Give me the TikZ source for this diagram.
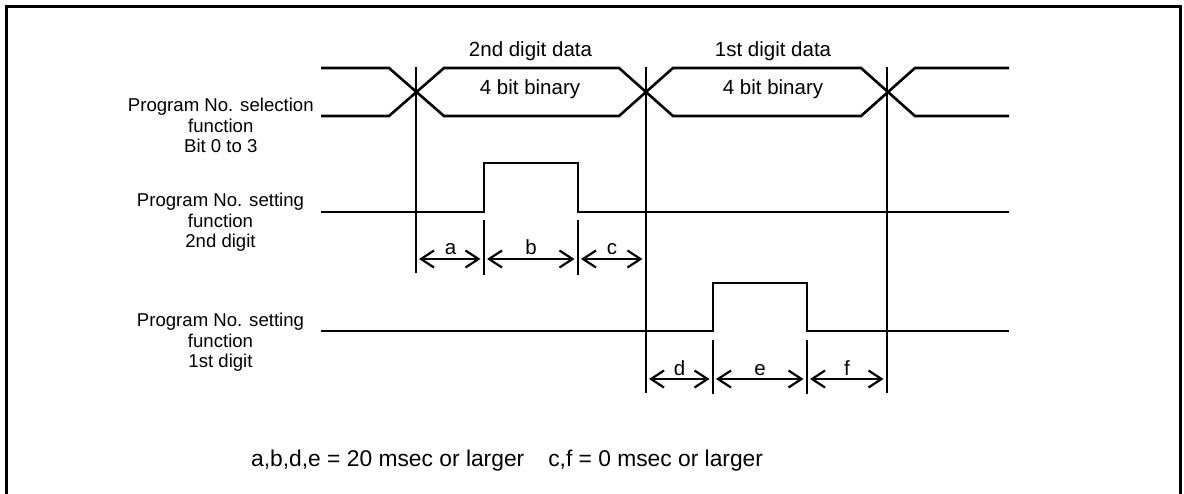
\documentclass[tikz,border=0pt]{standalone}
\usepackage{fontspec}
\setmainfont{Liberation Sans}
\usetikzlibrary{arrows.meta}
\begin{document}
\begin{tikzpicture}[x=1pt,y=-1pt,
  frame/.style={line width=3pt},
  sig/.style={line width=2.6pt, line join=miter},
  guide/.style={line width=1.1pt},
  dim/.style={line width=2.2pt, shorten <=3pt, shorten >=3.5pt,
    {Straight Barb[length=13pt,width=17pt,line width=2.2pt]}-{Straight Barb[length=13pt,width=17pt,line width=2.2pt]}},
  toplbl/.style={inner sep=0pt, anchor=base, font=\fontsize{20.5}{24}\selectfont},
  leftlbl/.style={inner sep=0pt, anchor=base, font=\fontsize{18.6}{20.5}\selectfont},
  letter/.style={inner sep=0pt, anchor=base, font=\fontsize{20.5}{24}\selectfont},
  note/.style={inner sep=0pt, anchor=base west, font=\fontsize{22.8}{26}\selectfont}]
\useasboundingbox (0,0) rectangle (1184,493);

% frame
\draw[frame] (6,500) -- (6,6) -- (1180.5,6) -- (1180.5,500);

% bus (Program No. selection function, Bit 0 to 3)
\draw[sig] (321,68) -- (389,68) -- (444,116) -- (619,116) -- (673,68) -- (861,68) -- (915,116) -- (1009,116);
\draw[sig] (321,116) -- (389,116) -- (444,68) -- (619,68) -- (673,116) -- (861,116) -- (915,68) -- (1009,68);

% 2nd digit strobe
\draw[sig] (321,212) -- (484,212) -- (484,163) -- (578,163) -- (578,212) -- (1009,212);
% 1st digit strobe
\draw[sig] (321,331) -- (713,331) -- (713,283) -- (807,283) -- (807,331) -- (1009,331);

% guide lines
\draw[guide] (416,67) -- (416,273);
\draw[guide] (646,67) -- (646,393);
\draw[guide] (887,67) -- (887,393);
\draw[guide] (484,220) -- (484,275);
\draw[guide] (578,220) -- (578,275);
\draw[guide] (713,340) -- (713,394);
\draw[guide] (807,340) -- (807,394);

% dimension arrows
\coordinate (A1) at (416,259);
\coordinate (A2) at (484,259);
\coordinate (A3) at (578,259);
\coordinate (A4) at (646,259);
\coordinate (B1) at (646,379);
\coordinate (B2) at (713,379);
\coordinate (B3) at (807,379);
\coordinate (B4) at (887,379);
\draw[dim] (A1) -- (A2);
\draw[dim] (A2) -- (A3);
\draw[dim] (A3) -- (A4);
\draw[dim] (B1) -- (B2);
\draw[dim] (B2) -- (B3);
\draw[dim] (B3) -- (B4);
\node[letter] (la) at (450.5,254.5) {a};
\node[letter] (lb) at (531,254.5) {b};
\node[letter] (lc) at (612,254.5) {c};
\node[letter] (ld) at (679.5,375) {d};
\node[letter] (le) at (760,375) {e};
\node[letter] (lf) at (847,375) {f};

% top labels
\node[toplbl] (d2) at (530.5,56) {2nd digit data};
\node[toplbl] (d1) at (773,56) {1st digit data};
\node[toplbl] (b2) at (530,94) {4 bit binary};
\node[toplbl] (b1) at (773,94) {4 bit binary};

% left labels
\node[leftlbl] (sel) at (220.8,111.5) {\begin{tabular}[t]{@{}c@{}}Program No. selection\\function\\Bit 0 to 3\end{tabular}};
\node[leftlbl] (set2) at (220.5,206.5) {\begin{tabular}[t]{@{}c@{}}Program No. setting\\function\\2nd digit\end{tabular}};
\node[leftlbl] (set1) at (220.5,326.5) {\begin{tabular}[t]{@{}c@{}}Program No. setting\\function\\1st digit\end{tabular}};

% note
\node[note] (nt) at (251,466) {a,b,d,e = 20 msec or larger\hspace{24pt}c,f = 0 msec or larger};
\end{tikzpicture}
\end{document}
